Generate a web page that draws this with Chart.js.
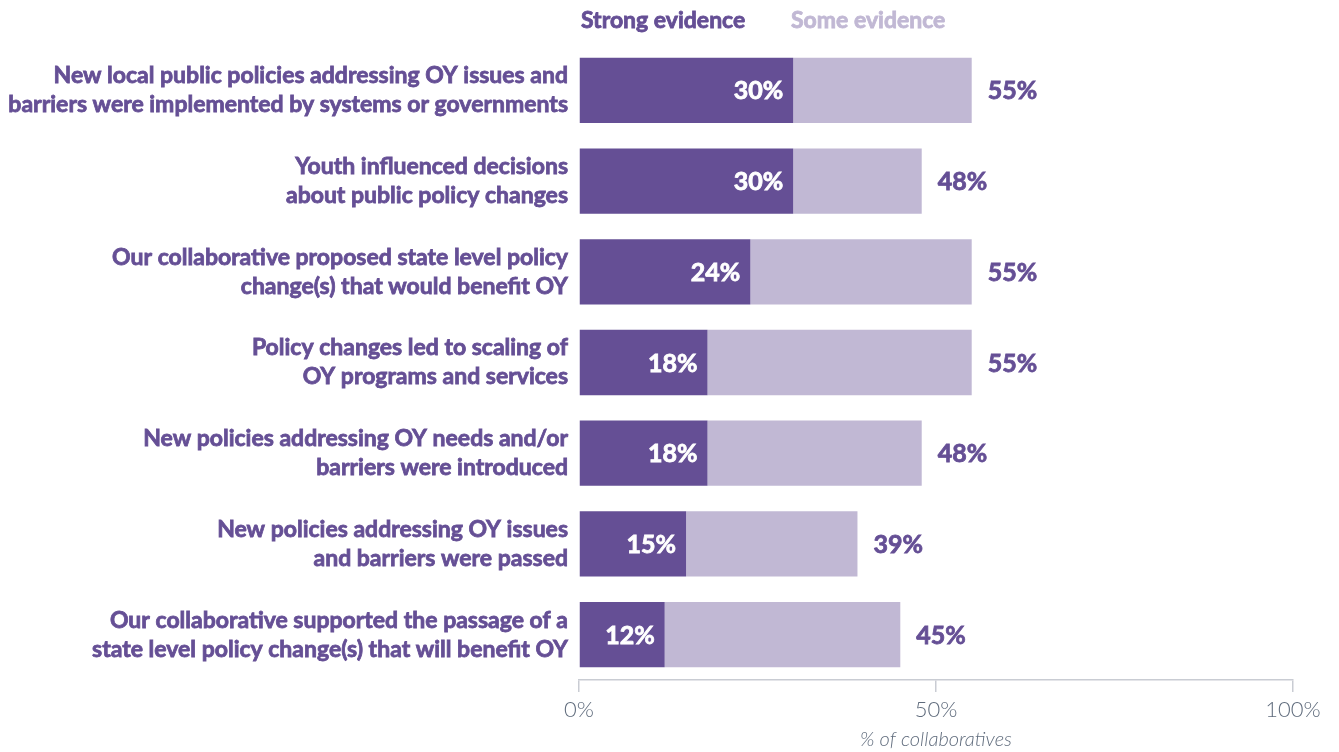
<!DOCTYPE html>
<html>
<head>
<meta charset="utf-8">
<script src="https://cdn.jsdelivr.net/npm/chart.js@4/dist/chart.umd.min.js"></script>
<style>
  html, body { margin: 0; padding: 0; background: #fff; }
  #wrap { width: 1339px; height: 752px; position: relative; }
</style>
</head>
<body>
<div id="wrap"><canvas id="evidenceChart"></canvas></div>
<script>
const categories = [
  ["New local public policies addressing OY issues and", "barriers were implemented by systems or governments"],
  ["Youth influenced decisions", "about public policy changes"],
  ["Our collaborative proposed state level policy", "change(s) that would benefit OY"],
  ["Policy changes led to scaling of", "OY programs and services"],
  ["New policies addressing OY needs and/or", "barriers were introduced"],
  ["New policies addressing OY issues", "and barriers were passed"],
  ["Our collaborative supported the passage of a", "state level policy change(s) that will benefit OY"]
];
const strongEvidence = [30, 30, 24, 18, 18, 15, 12];
const someEvidence = [25, 18, 31, 37, 30, 24, 33];
const xTicks = [0, 50, 100];

const DARK = "#654f95";
const LIGHT = "#c1b8d4";
const FONT = "Lato, 'Open Sans', sans-serif";

// filled text with a thin outline of the same colour for a heavier look
function boldText(ctx, text, x, y, color) {
  ctx.fillStyle = color;
  ctx.strokeStyle = color;
  ctx.lineWidth = 0.8;
  ctx.fillText(text, x, y);
  ctx.strokeText(text, x, y);
}

// legend as coloured words above the plot, bar value labels inside / after each bar
const textPlugin = {
  id: "textPlugin",
  afterDraw(chart) {
    const ctx = chart.ctx;
    const area = chart.chartArea;
    ctx.save();
    ctx.font = "bold 23px " + FONT;
    ctx.textBaseline = "middle";
    ctx.textAlign = "left";
    boldText(ctx, "Strong evidence", area.left + 2, 21, DARK);
    boldText(ctx, "Some evidence", area.left + 212, 21, LIGHT);

    ctx.font = "bold 25px " + FONT;
    const strongMeta = chart.getDatasetMeta(0);
    const someMeta = chart.getDatasetMeta(1);
    strongMeta.data.forEach((bar, i) => {
      ctx.textAlign = "right";
      boldText(ctx, strongEvidence[i] + "%", bar.x - 10, bar.y + 1, "#ffffff");
    });
    someMeta.data.forEach((bar, i) => {
      ctx.textAlign = "left";
      boldText(ctx, (strongEvidence[i] + someEvidence[i]) + "%", bar.x + 16, bar.y + 1, DARK);
    });
    ctx.restore();
  }
};

new Chart(document.getElementById("evidenceChart"), {
  type: "bar",
  data: {
    labels: categories,
    datasets: [
      { label: "Strong evidence", data: strongEvidence, backgroundColor: DARK,
        barPercentage: 0.8, categoryPercentage: 0.9, borderWidth: 0 },
      { label: "Some evidence", data: someEvidence, backgroundColor: LIGHT,
        barPercentage: 0.8, categoryPercentage: 0.9, borderWidth: 0 }
    ]
  },
  options: {
    indexAxis: "y",
    responsive: true,
    maintainAspectRatio: false,
    animation: false,
    layout: { padding: { top: 45, right: 46, left: 0, bottom: 0 } },
    plugins: {
      legend: { display: false },
      tooltip: { enabled: false }
    },
    scales: {
      y: {
        stacked: true,
        grid: { display: false, drawTicks: false },
        border: { display: false },
        ticks: {
          color: DARK,
          textStrokeColor: DARK,
          textStrokeWidth: 0.8,
          font: { family: FONT, size: 23, weight: "bold", lineHeight: 1.26 },
          padding: 11
        },
        afterFit(scale) { scale.width = 579; }
      },
      x: {
        stacked: true,
        min: 0,
        max: 100,
        afterBuildTicks(scale) { scale.ticks = xTicks.map(v => ({ value: v })); },
        grid: { drawOnChartArea: false, drawTicks: true, tickLength: 12, color: "#c9ccd3", lineWidth: 1.5 },
        border: { display: true, color: "#c9ccd3", width: 1.5 },
        ticks: {
          color: "#5f6b7c",
          font: { family: FONT, size: 22, weight: "300" },
          padding: 5,
          maxRotation: 0,
          callback: v => v + "%"
        },
        title: {
          display: true,
          text: "% of collaboratives",
          color: "#5f6b7c",
          font: { family: FONT, size: 20, style: "italic", weight: "300" },
          padding: { top: 4, bottom: 0 }
        },
        afterFit(scale) { scale.height = 72; }
      }
    }
  },
  plugins: [textPlugin]
});
</script>
</body>
</html>
